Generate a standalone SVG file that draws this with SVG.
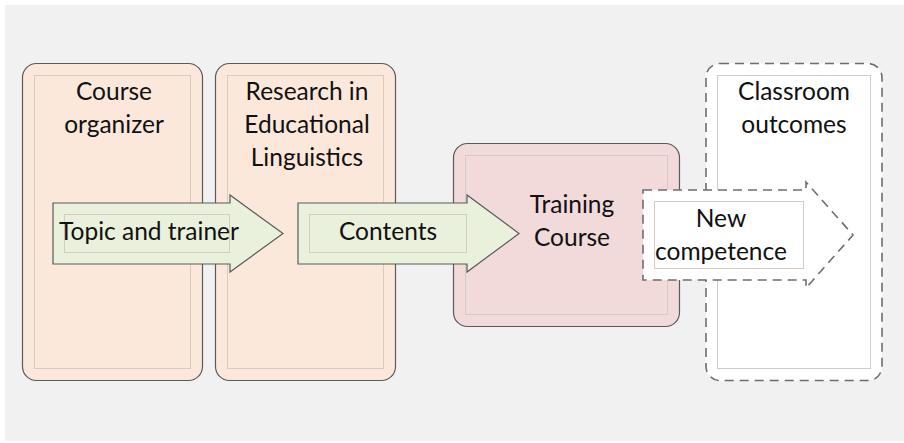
<svg xmlns="http://www.w3.org/2000/svg" width="904" height="443" viewBox="0 0 904 443">
  <style>
    .lbl { font-family: Lato, "Open Sans", "Liberation Sans", sans-serif; font-size: 24.5px; fill: #111; text-anchor: middle; }
    .peach { fill: #fce8da; stroke: #5a5a5a; stroke-width: 1.2; }
    .rose { fill: #f2d9da; stroke: #5a5a5a; stroke-width: 1.2; }
    .open { fill: #ffffff; stroke: #6e6e6e; stroke-width: 1.6; stroke-dasharray: 9 6; }
    .inner { fill: none; stroke: #d2cbc6; stroke-width: 1; }
    .arrow { fill: #e9f0dc; stroke: #5a5a5a; stroke-width: 1.2; }
    .arrow-open { fill: #ffffff; stroke: #6e6e6e; stroke-width: 1.6; stroke-dasharray: 9 6; }
  </style>
  <rect x="0" y="0" width="904" height="443" fill="#ffffff"/>
  <rect x="5" y="5" width="899" height="436" fill="#f1f1f1"/>

  <g id="course-organizer">
    <rect class="peach" x="22.5" y="63.5" width="180" height="317" rx="14"/>
    <rect class="inner" x="34.5" y="75.5" width="156" height="293"/>
    <text class="lbl" x="114" y="100">Course</text>
    <text class="lbl" x="114" y="133">organizer</text>
  </g>

  <g id="research">
    <rect class="peach" x="215.5" y="63.5" width="180" height="317" rx="14"/>
    <rect class="inner" x="227.5" y="75.5" width="156" height="293"/>
    <text class="lbl" x="307" y="100">Research in</text>
    <text class="lbl" x="307" y="133">Educational</text>
    <text class="lbl" x="307" y="166">Linguistics</text>
  </g>

  <g id="training-course">
    <rect class="rose" x="453.5" y="143.5" width="226" height="183" rx="14"/>
    <rect class="inner" x="465.5" y="155.5" width="202" height="159" stroke="#d8c4c4"/>
    <text class="lbl" x="572" y="213">Training</text>
    <text class="lbl" x="572" y="246">Course</text>
  </g>

  <g id="classroom-outcomes">
    <rect class="open" x="706" y="63.5" width="176" height="317" rx="14"/>
    <rect class="inner" x="717.5" y="75.5" width="153" height="293" stroke="#d4d4d4"/>
    <text class="lbl" x="794" y="100">Classroom</text>
    <text class="lbl" x="794" y="133">outcomes</text>
  </g>

  <g id="connectors">
    <g id="topic-and-trainer">
      <path class="arrow" d="M53 203 H230 V195 L283 233.5 L230 272 V264 H53 Z"/>
      <rect class="inner" x="64.5" y="214.5" width="165" height="38" stroke="#d0d4c8"/>
      <text class="lbl" x="149" y="240">Topic and trainer</text>
    </g>
    <g id="contents">
      <path class="arrow" d="M298 203 H467 V195 L519 233.5 L467 272 V264 H298 Z"/>
      <rect class="inner" x="309.5" y="214.5" width="157" height="38" stroke="#d0d4c8"/>
      <text class="lbl" x="388" y="240">Contents</text>
    </g>
    <g id="new-competence">
      <path class="arrow-open" d="M643 190 H806 V182 L853 235 L806 288 V280 H643 Z"/>
      <rect class="inner" x="654.5" y="201.5" width="149" height="67" stroke="#d4d4d4"/>
      <text class="lbl" x="721" y="227">New</text>
      <text class="lbl" x="721" y="260">competence</text>
    </g>
  </g>
</svg>
